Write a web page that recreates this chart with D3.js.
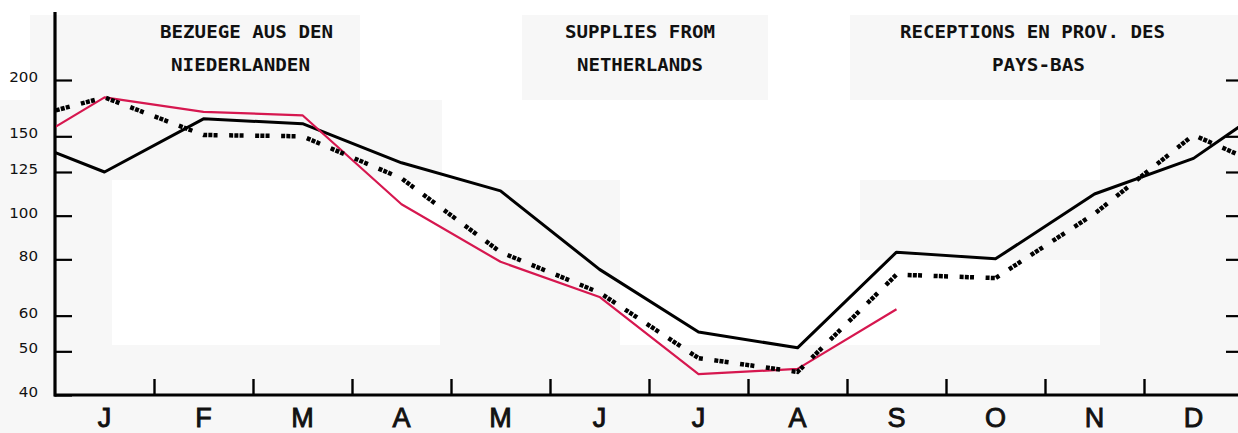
<!DOCTYPE html>
<html>
<head>
<meta charset="utf-8">
<script src="https://cdn.jsdelivr.net/npm/d3@7"></script>
<style>
  html, body { margin: 0; padding: 0; background: #ffffff; }
  svg { display: block; }
</style>
</head>
<body>
<svg id="chart" width="1238" height="433"></svg>
<script>
// ---- data ----
const months = ["J","F","M","A","M","J","J","A","S","O","N","D"];
const yTicks = [40, 50, 60, 80, 100, 125, 150, 200];
// values of previous December, then Jan..Dec, then next January (line runs off both edges)
const blackPrev = 152.6;
const blackValues = [125, 164, 160, 131, 113.5, 76, 55.2, 50.9, 83, 80.2, 111.7, 134];
const blackNext = 190;
const redPrev = 135;
const redValues = [183, 170, 167, 106, 79, 66, 44.5, 45.7, 62];
const dashPrev = 160;
const dashValues = [183, 151, 150, 121, 83, 67.5, 48.3, 45, 74, 72.7, 101, 151];
const dashNext = 121;
const titleDe = ["BEZUEGE AUS DEN", "NIEDERLANDEN"];
const titleEn = ["SUPPLIES FROM", "NETHERLANDS"];
const titleFr = ["RECEPTIONS EN PROV. DES", "PAYS-BAS"];

// ---- layout ----
const svg = d3.select("#chart");
const W = 1238, H = 433;
const x = d3.scaleLinear().domain([-0.5, 11.5]).range([55, 1243]);
const y = d3.scaleLog().domain([40, 200]).range([395, 80]);

// faint paper blocks
const bg = svg.append("g").attr("fill", "#f7f7f7");
[[30,15,330,85],[522,15,246,85],[850,15,388,85],[0,100,112,333],[112,100,330,80],
 [0,345,1238,88],[1100,100,138,245],[440,180,180,165],[860,180,240,80]].forEach(r =>
  bg.append("rect").attr("x", r[0]).attr("y", r[1]).attr("width", r[2]).attr("height", r[3]));

// titles
const titleFont = "'DejaVu Sans Mono', 'Liberation Mono', monospace";
function title(lines, spans) {
  lines.forEach((t, i) => {
    svg.append("text")
      .attr("x", spans[i][0]).attr("y", spans[i][2])
      .attr("textLength", spans[i][1] - spans[i][0])
      .attr("lengthAdjust", "spacingAndGlyphs")
      .attr("font-family", titleFont).attr("font-weight", "bold")
      .attr("font-size", 18).attr("fill", "#111")
      .text(t);
  });
}
title(titleDe, [[160, 333, 38], [171, 310, 71]]);
title(titleEn, [[565, 715, 38], [577, 703, 71]]);
title(titleFr, [[900, 1165, 38], [992, 1085, 71]]);

// axes
const axisColor = "#000";
const yAxisL = svg.append("g").attr("transform", "translate(55,0)")
  .call(d3.axisRight(y).tickValues(yTicks).tickSize(17).tickFormat(""));
const yAxisR = svg.append("g").attr("transform", "translate(1243,0)")
  .call(d3.axisLeft(y).tickValues(yTicks.filter(v => v > 40)).tickSize(17).tickFormat(""));
[yAxisL, yAxisR].forEach(g => {
  g.select(".domain").remove();
  g.selectAll(".tick line").attr("stroke", axisColor).attr("stroke-width", 2.2);
});
// y tick labels
svg.append("g").selectAll("text").data(yTicks).join("text")
  .attr("x", 38).attr("y", d => y(d) - 3)
  .attr("dy", "0.35em")
  .attr("text-anchor", "end")
  .attr("font-family", "'DejaVu Sans', sans-serif")
  .attr("font-size", 14.5).attr("fill", "#111")
  .attr("textLength", d => String(d).length * 9.6)
  .attr("lengthAdjust", "spacingAndGlyphs")
  .text(d => d);

// left axis line
svg.append("line").attr("x1", 55).attr("x2", 55).attr("y1", 12).attr("y2", 396.5)
  .attr("stroke", axisColor).attr("stroke-width", 3.2);

// bottom axis
const xAxis = svg.append("g").attr("transform", "translate(0,395)")
  .call(d3.axisTop(x).tickValues(d3.range(0.5, 11.5, 1)).tickSize(16).tickFormat(""));
xAxis.select(".domain").remove();
xAxis.selectAll(".tick line").attr("stroke", axisColor).attr("stroke-width", 2.4);
svg.append("line").attr("x1", 54).attr("x2", W).attr("y1", 395).attr("y2", 395)
  .attr("stroke", axisColor).attr("stroke-width", 3.2);

// month labels
svg.append("g").selectAll("text").data(months).join("text")
  .attr("x", (d, i) => x(i)).attr("y", 427)
  .attr("text-anchor", "middle")
  .attr("font-family", "'Liberation Sans', Arial, sans-serif")
  .attr("font-size", 27).attr("fill", "#111")
  .attr("stroke", "#111").attr("stroke-width", 0.9)
  .text(d => d);

// lines
svg.append("defs").append("clipPath").attr("id", "plot")
  .append("rect").attr("x", 56).attr("y", 0).attr("width", W - 56).attr("height", 394);
const plot = svg.append("g").attr("clip-path", "url(#plot)");
const line = d3.line().x(d => x(d[0])).y(d => y(d[1]));

const blackPts = [[-1, blackPrev], ...blackValues.map((v, i) => [i, v]), [12, blackNext]];
const redPts = [[-1, redPrev], ...redValues.map((v, i) => [i, v])];
const dashPts = [[-1, dashPrev], ...dashValues.map((v, i) => [i, v]), [12, dashNext]];

plot.append("path").datum(blackPts).attr("d", line)
  .attr("fill", "none").attr("stroke", "#000").attr("stroke-width", 3)
  .attr("stroke-linejoin", "round");
plot.append("path").datum(redPts).attr("d", line)
  .attr("fill", "none").attr("stroke", "#d6174f").attr("stroke-width", 2.2)
  .attr("stroke-linejoin", "round");
plot.append("path").datum(dashPts).attr("d", line)
  .attr("fill", "none").attr("stroke", "#000").attr("stroke-width", 4.5)
  .attr("stroke-dasharray", "4,1.2,4,1.2,4,11.6");
</script>
</body>
</html>
